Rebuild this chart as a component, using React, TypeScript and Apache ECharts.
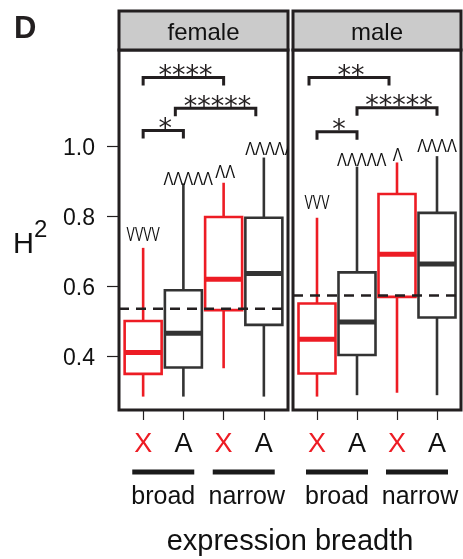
import React, { useEffect, useRef } from 'react';
import * as echarts from 'echarts';

const PANELS = ['female', 'male'];
const CATEGORIES = ['X', 'A', 'X', 'A'];
const BREADTH = ['broad', 'narrow'];
const X_POS = [1, 2, 3, 4];
const Y_TICKS = [0.4, 0.6, 0.8, 1.0];
// [lower whisker, Q1, median, Q3, upper whisker]
const FEMALE_BOXES = [
  [0.286, 0.351, 0.412, 0.502, 0.711],
  [0.286, 0.369, 0.467, 0.590, 0.895],
  [0.367, 0.533, 0.621, 0.799, 0.897],
  [0.286, 0.491, 0.638, 0.797, 0.969],
];
const MALE_BOXES = [
  [0.286, 0.352, 0.450, 0.552, 0.797],
  [0.290, 0.405, 0.499, 0.641, 0.943],
  [0.297, 0.571, 0.693, 0.865, 0.955],
  [0.290, 0.512, 0.665, 0.811, 0.973],
];
const GENOME_MEAN = [0.537, 0.575];
// significance brackets: [from x, to x, height, stars]
const FEMALE_BRACKETS: [number, number, number, string][] = [
  [1, 3, 1.198, '****'],
  [1.8, 3.8, 1.110, '*****'],
  [1, 2, 1.046, '*'],
];
const MALE_BRACKETS: [number, number, number, string][] = [
  [0.8, 2.8, 1.198, '**'],
  [2, 4, 1.111, '*****'],
  [1, 2, 1.043, '*'],
];
// off-scale markers: [x, y, text]
const FEMALE_MARKS: [number, number, string][] = [
  [1, 0.75, 'VVVV'],
  [2.12, 0.909, 'ΛΛΛΛΛ'],
  [3.04, 0.929, 'ΛΛ'],
  [4.15, 0.995, 'ΛΛΛΛΛ'],
];
const MALE_MARKS: [number, number, string][] = [
  [1, 0.841, 'VVV'],
  [2.12, 0.961, 'ΛΛΛΛΛ'],
  [3.02, 0.978, 'Λ'],
  [4.0, 1.003, 'ΛΛΛΛ'],
];

const RED = '#ed1c24';
const DARK = '#333333';
const INK = '#231f20';
const FONT = 'Liberation Sans';

const GRIDS = [
  { left: 119, top: 50, width: 169, height: 360 },
  { left: 293, top: 50, width: 168, height: 360 },
];

const boxRender = (params: any, api: any) => {
  const x = api.value(0);
  const color = CATEGORIES[params.dataIndex] === 'X' ? RED : DARK;
  const c = (v: number) => api.coord([x, v]);
  const lo = c(api.value(1));
  const q1 = c(api.value(2));
  const md = c(api.value(3));
  const q3 = c(api.value(4));
  const hi = c(api.value(5));
  const px = lo[0];
  const hw = 18.5;
  const ls = { stroke: color, lineWidth: 2.6 };
  return {
    type: 'group',
    children: [
      { type: 'line', shape: { x1: px, y1: lo[1], x2: px, y2: q1[1] }, style: ls },
      { type: 'line', shape: { x1: px, y1: q3[1], x2: px, y2: hi[1] }, style: ls },
      {
        type: 'rect',
        shape: { x: px - hw, y: q3[1], width: 2 * hw, height: q1[1] - q3[1] },
        style: { stroke: color, lineWidth: 2.6, fill: 'none' },
      },
      { type: 'line', shape: { x1: px - hw, y1: md[1], x2: px + hw, y2: md[1] }, style: { stroke: color, lineWidth: 5 } },
    ],
  };
};

const makeBracketRender = (list: [number, number, number, string][]) => (params: any, api: any) => {
  const [x1, x2, y, stars] = list[params.dataIndex];
  const a = api.coord([x1, y]);
  const b = api.coord([x2, y]);
  const drop = 8;
  return {
    type: 'group',
    children: [
      {
        type: 'polyline',
        shape: { points: [[a[0], a[1] + drop], [a[0], a[1]], [b[0], a[1]], [b[0], a[1] + drop]] },
        style: { stroke: INK, lineWidth: 3, fill: 'none' },
      },
      {
        type: 'text',
        x: (a[0] + b[0]) / 2 + 2,
        y: a[1] - 3,
        style: {
          text: stars,
          fontFamily: 'DejaVu Sans',
          fontSize: 27,
          fill: INK,
          align: 'center',
          verticalAlign: 'middle',
        },
      },
    ],
  };
};

const makeMarkRender = (list: [number, number, string][]) => (params: any, api: any) => {
  const [x, y, t] = list[params.dataIndex];
  const p = api.coord([x, y]);
  const isV = t[0] === 'V';
  return {
    type: 'text',
    x: p[0],
    y: p[1],
    scaleX: isV ? 0.62 : 0.78,
    style: {
      text: t,
      fontFamily: FONT,
      fontSize: isV ? 20 : 19,
      fill: '#111',
      align: 'center',
      verticalAlign: 'middle',
    },
  };
};

export default function App() {
  const ref = useRef<HTMLDivElement>(null);
  useEffect(() => {
    if (!ref.current) return;
    const chart = echarts.init(ref.current, null, { renderer: 'svg' });
    const boxesPerPanel = [FEMALE_BOXES, MALE_BOXES];
    const bracketsPerPanel = [FEMALE_BRACKETS, MALE_BRACKETS];
    const marksPerPanel = [FEMALE_MARKS, MALE_MARKS];

    const series: any[] = [];
    PANELS.forEach((_, g) => {
      series.push({
        type: 'line',
        xAxisIndex: g,
        yAxisIndex: g,
        data: [[0.4, GENOME_MEAN[g]], [4.6, GENOME_MEAN[g]]],
        symbol: 'none',
        lineStyle: { color: INK, width: 2.5, type: [10, 7] },
        silent: true,
      });
      series.push({
        type: 'custom',
        xAxisIndex: g,
        yAxisIndex: g,
        data: boxesPerPanel[g].map((b, i) => [X_POS[i], ...b]),
        encode: { x: 0, y: [1, 2, 3, 4, 5] },
        renderItem: boxRender,
      });
      series.push({
        type: 'custom',
        xAxisIndex: g,
        yAxisIndex: g,
        data: bracketsPerPanel[g].map((b) => [b[0], b[2]]),
        encode: { x: 0, y: 1 },
        renderItem: makeBracketRender(bracketsPerPanel[g]),
      });
      series.push({
        type: 'custom',
        xAxisIndex: g,
        yAxisIndex: g,
        clip: true,
        data: marksPerPanel[g].map((m) => [m[0], m[1]]),
        encode: { x: 0, y: 1 },
        renderItem: makeMarkRender(marksPerPanel[g]),
      });
    });

    const option: any = {
      animation: false,
      textStyle: { fontFamily: FONT },
      grid: GRIDS.map((gr) => ({ ...gr, show: true, borderColor: INK, borderWidth: 3, backgroundColor: 'transparent' })),
      xAxis: GRIDS.map((_, g) => ({
        type: 'value',
        gridIndex: g,
        min: 0.4,
        max: 4.6,
        axisLine: { show: false },
        splitLine: { show: false },
        axisTick: { show: true, length: 10, customValues: X_POS, lineStyle: { color: INK, width: 1.2 } },
        axisLabel: {
          customValues: X_POS,
          margin: 19,
          formatter: (v: number) => {
            const i = X_POS.indexOf(Math.round(v));
            const c = CATEGORIES[i];
            return c === 'X' ? '{x|X}' : '{a|A}';
          },
          rich: {
            x: { color: RED, fontSize: 27, fontFamily: FONT },
            a: { color: '#111', fontSize: 27, fontFamily: FONT },
          },
        },
      })),
      yAxis: GRIDS.map((_, g) => ({
        type: 'value',
        gridIndex: g,
        min: 0.2477,
        max: 1.2763,
        axisLine: { show: false },
        splitLine: { show: false },
        axisTick: { show: g === 0, length: 12, customValues: Y_TICKS, lineStyle: { color: INK, width: 1.2 } },
        axisLabel: {
          show: g === 0,
          customValues: Y_TICKS,
          margin: 24,
          fontSize: 23,
          color: '#111',
          fontFamily: FONT,
          formatter: (v: number) => v.toFixed(1),
        },
      })),
      series,
    };
    chart.setOption(option);

    // decorations positioned from the axes
    const graphic: any[] = [];
    graphic.push({
      type: 'text', x: 14, y: 27.5,
      style: { text: 'D', fontFamily: FONT, fontWeight: 'bold', fontSize: 31, fill: INK, align: 'left', verticalAlign: 'middle' },
    });
    graphic.push({
      type: 'text', x: 13, y: 243,
      style: { text: 'H', fontFamily: FONT, fontSize: 29, fill: '#111', align: 'left', verticalAlign: 'middle' },
    });
    graphic.push({
      type: 'text', x: 34, y: 228.5,
      style: { text: '2', fontFamily: FONT, fontSize: 24, fill: '#111', align: 'left', verticalAlign: 'middle' },
    });
    GRIDS.forEach((gr, g) => {
      graphic.push({
        type: 'rect',
        shape: { x: gr.left, y: 11, width: gr.width, height: gr.top - 11 },
        style: { fill: '#cbcbcb', stroke: INK, lineWidth: 3 },
      });
      graphic.push({
        type: 'text', x: gr.left + gr.width / 2, y: 31.5,
        style: { text: PANELS[g], fontFamily: FONT, fontSize: 24, fill: '#111', align: 'center', verticalAlign: 'middle' },
      });
      BREADTH.forEach((b, k) => {
        const p1 = chart.convertToPixel({ gridIndex: g } as any, [X_POS[2 * k], 0.4]) as number[];
        const p2 = chart.convertToPixel({ gridIndex: g } as any, [X_POS[2 * k + 1], 0.4]) as number[];
        const mid = (p1[0] + p2[0]) / 2;
        graphic.push({
          type: 'rect',
          shape: { x: mid - 31, y: 469.5, width: 62, height: 5 },
          style: { fill: '#1a1a1a' },
        });
        graphic.push({
          type: 'text', x: mid + (k === 1 ? 3 : 0), y: 495.3,
          style: { text: b, fontFamily: FONT, fontSize: 25, fill: '#111', align: 'center', verticalAlign: 'middle' },
        });
      });
    });
    graphic.push({
      type: 'text', x: (GRIDS[0].left + GRIDS[1].left + GRIDS[1].width) / 2, y: 540,
      style: { text: 'expression breadth', fontFamily: FONT, fontSize: 29, fill: '#111', align: 'center', verticalAlign: 'middle' },
    });
    chart.setOption({ graphic });

    return () => chart.dispose();
  }, []);
  return <div ref={ref} style={{ position: 'fixed', left: 0, top: 0, width: 463, height: 559 }} />;
}
